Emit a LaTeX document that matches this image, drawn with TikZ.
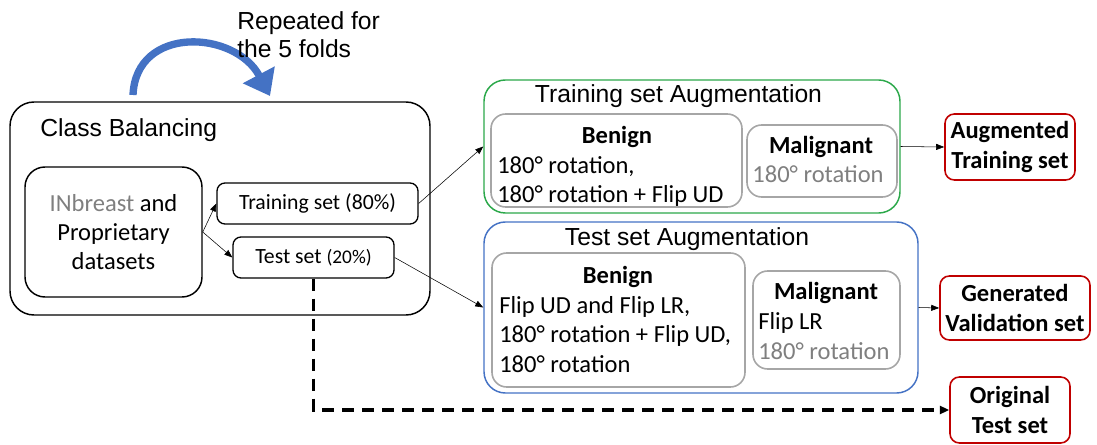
\documentclass[tikz,border=0pt]{standalone}
\usepackage{fontspec}
\setmainfont{Carlito}
\newfontfamily\arialfont{Liberation Sans}
\usetikzlibrary{arrows.meta}
\definecolor{foldblue}{HTML}{4472C4}
\definecolor{augblue}{HTML}{4472C4}
\definecolor{auggreen}{HTML}{2BA84A}
\definecolor{outred}{HTML}{C00000}
\definecolor{boxgray}{HTML}{A6A6A6}
\definecolor{txtgray}{HTML}{7F7F7F}
\begin{document}
\begin{tikzpicture}[
    x=0.75pt,
    y=-0.75pt,
    every node/.style={inner sep=0pt, font=\fontsize{18.4}{22}\selectfont},
    bigbox/.style={draw, line width=1.1pt},
    setbox/.style={draw, line width=1pt, rounded corners=6pt, font=\fontsize{16.3}{20}\selectfont},
    augbox/.style={line width=1.1pt, rounded corners=16pt},
    graybox/.style={draw=boxgray, line width=1.2pt, rounded corners=11pt},
    redbox/.style={draw=outred, line width=1.2pt, rounded corners=7pt, align=center, font=\bfseries\fontsize{18.4}{22}\selectfont},
    arial/.style={font=\arialfont\fontsize{18.5}{21}\selectfont},
    ttl/.style={font=\bfseries\fontsize{18.4}{22}\selectfont},
    link/.style={-{Triangle[length=6pt,width=4.5pt]}, line width=0.4pt},
    dashlink/.style={-{Triangle[length=7pt,width=6pt]}, line width=2.5pt, dash pattern=on 9pt off 6pt},
    foldarrow/.style={-{Triangle[length=18pt,width=26pt]}, line width=5.5pt, draw=foldblue}
]
\useasboundingbox (0,0) rectangle (1097,445);

\coordinate (foldstart) at (133,95);
\coordinate (foldend) at (270,96);
\draw[foldarrow] (foldstart) .. controls (136,25) and (235,30) .. (foldend);
\node[arial, anchor=west, align=left] (rep) at (237,34.5) {Repeated for\\the 5 folds};

\node[bigbox, rounded corners=18pt, minimum width=315pt, minimum height=159.75pt] (cb) at (220,208.5) {};
\node[arial, anchor=base west] (cbtitle) at (40,137) {Class Balancing};
\node[bigbox, rounded corners=15pt, minimum width=132.75pt, minimum height=97.5pt, align=center] (data) at (113.5,232) {{\color{txtgray}INbreast} and\\Proprietary\\datasets};
\node[setbox, minimum width=150.75pt, minimum height=30.75pt] (train) at (317.5,203.5) {Training set (80\%)};
\node[setbox, minimum width=120.75pt, minimum height=30.75pt] (test) at (313.5,257.5) {Test set {\fontsize{14.5}{17}\selectfont(20\%)}};

\node[augbox, draw=auggreen, minimum width=312pt, minimum height=99.75pt] (tsa) at (692,146.5) {};
\node[arial, anchor=base] (tsatitle) at (678.5,103) {Training set Augmentation};
\node[graybox, minimum width=188.25pt, minimum height=69.75pt] (tbn) at (616.5,160.5) {};
\node[ttl] (tbntitle) at (617,136.5) {Benign};
\node[anchor=west, align=left] (tbntext) at (497,181.5) {180° rotation,\\180° rotation + Flip UD};
\node[graybox, minimum width=112.5pt, minimum height=54pt] (tml) at (822,161) {};
\node[ttl] (tmltitle) at (821,146.5) {Malignant};
\node[text=txtgray] (tmltext) at (818,174.5) {180° rotation};

\node[augbox, draw=augblue, minimum width=325.5pt, minimum height=128.25pt] (tesa) at (701,307.5) {};
\node[arial, anchor=base] (tesatitle) at (687,246) {Test set Augmentation};
\node[graybox, minimum width=189.75pt, minimum height=100.5pt] (ebn) at (618.5,320) {};
\node[ttl] (ebntitle) at (618,276.5) {Benign};
\node[anchor=west, align=left] (ebntext) at (499,334.5) {Flip UD and Flip LR,\\180° rotation + Flip UD,\\180° rotation};
\node[graybox, minimum width=110.25pt, minimum height=73.5pt] (eml) at (826.5,320) {};
\node[ttl] (emltitle) at (826,292.5) {Malignant};
\node[anchor=west, align=left] (emltext) at (758,336) {Flip LR\\{\color{txtgray}180° rotation}};

\node[redbox, minimum width=97.5pt, minimum height=49.5pt] (aug) at (1010,147) {Augmented\\Training set};
\node[redbox, minimum width=112.5pt, minimum height=48pt] (gen) at (1015,308) {Generated\\Validation set};
\node[redbox, minimum width=90pt, minimum height=49.5pt] (orig) at (1010,410) {Original\\Test set};

\draw[link] (data.east) -- (train.west);
\draw[link] (data.east) -- (test.west);
\draw[link] (train.east) -- (tsa.west);
\draw[link] (test.east) -- (tesa.west);
\draw[link] (tsa.east) -- (aug.west);
\draw[link] (tesa.east) -- (gen.west);
\draw[dashlink] (test.south) |- (orig.west);
\end{tikzpicture}
\end{document}
